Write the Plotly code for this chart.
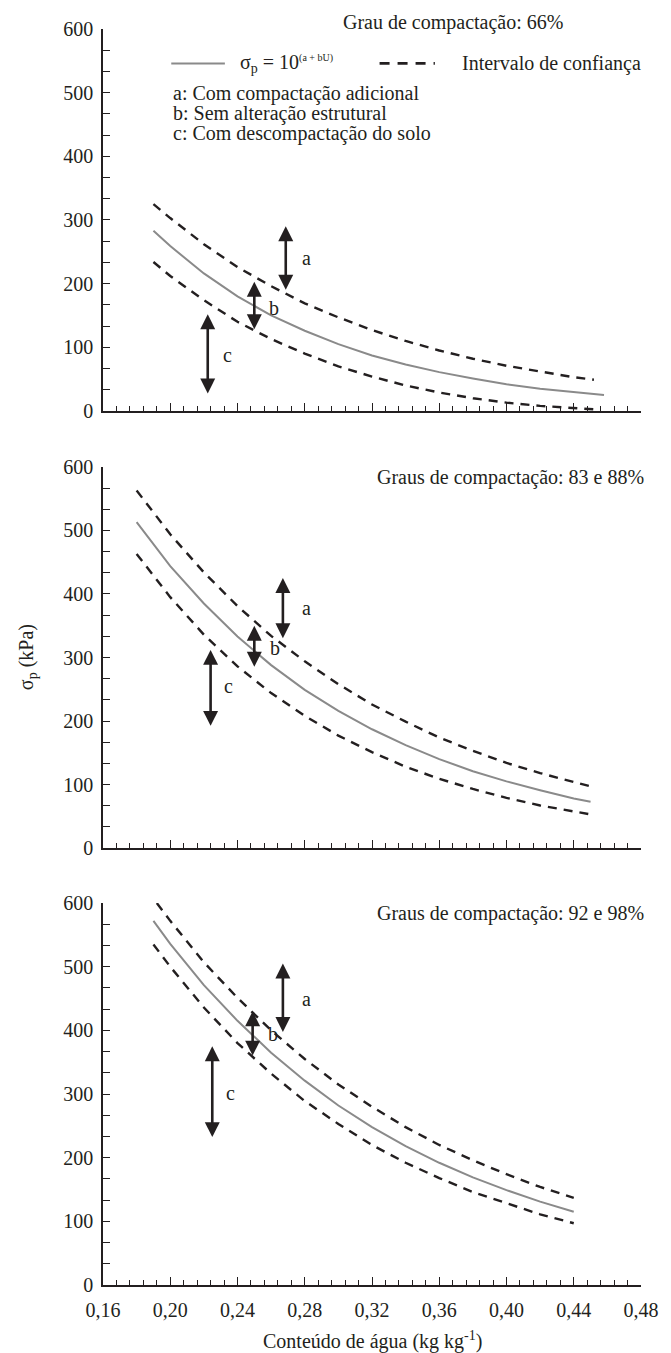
import plotly.graph_objects as go

# ---------------- data ----------------
# Panel 1: Grau de compactação 66%
u1 = [0.19, 0.20, 0.22, 0.24, 0.26, 0.28, 0.30, 0.32, 0.34, 0.36, 0.38, 0.40, 0.42, 0.44, 0.458]
fit1 = [283, 259, 216, 180, 150, 126, 105, 87, 73, 61, 51, 42, 35, 30, 25]
u1_up = [0.19, 0.20, 0.22, 0.24, 0.26, 0.28, 0.30, 0.32, 0.34, 0.36, 0.38, 0.40, 0.42, 0.44, 0.452]
up1 = [325, 303, 262, 226, 196, 169, 147, 127, 110, 95, 82, 71, 62, 53, 49]
u1_lo = [0.19, 0.20, 0.22, 0.24, 0.26, 0.28, 0.30, 0.32, 0.34, 0.36, 0.38, 0.40, 0.42, 0.44, 0.455]
lo1 = [234, 212, 174, 140, 113, 90, 70, 54, 40, 29, 20, 13, 8, 4, 2]

# Panel 2: Graus de compactação 83 e 88%
u2 = [0.18, 0.20, 0.22, 0.24, 0.26, 0.28, 0.30, 0.32, 0.34, 0.36, 0.38, 0.40, 0.42, 0.44, 0.45]
fit2 = [513, 444, 385, 333, 288, 249, 216, 187, 162, 140, 121, 105, 91, 78, 73]
up2 = [563, 494, 434, 381, 334, 294, 258, 226, 199, 174, 153, 134, 118, 104, 97]
lo2 = [463, 395, 336, 286, 244, 208, 177, 151, 128, 109, 93, 79, 67, 57, 53]

# Panel 3: Graus de compactação 92 e 98%
u3 = [0.19, 0.20, 0.22, 0.24, 0.26, 0.28, 0.30, 0.32, 0.34, 0.36, 0.38, 0.40, 0.42, 0.44]
fit3 = [572, 536, 471, 415, 365, 321, 282, 248, 218, 192, 169, 149, 131, 115]
u3_up = [0.192, 0.20, 0.22, 0.24, 0.26, 0.28, 0.30, 0.32, 0.34, 0.36, 0.38, 0.40, 0.42, 0.44]
up3 = [600, 572, 507, 451, 400, 355, 315, 280, 248, 220, 196, 174, 154, 137]
lo3 = [535, 500, 436, 380, 332, 289, 253, 220, 192, 168, 146, 128, 111, 97]

# Arrows (x, top, bottom) per panel: a, b, c
arrows = {
    1: {"a": (0.2687, 290, 188), "b": (0.250, 203, 126), "c": (0.2223, 152, 25)},
    2: {"a": (0.267, 425, 328), "b": (0.250, 350, 283), "c": (0.224, 312, 190)},
    3: {"a": (0.267, 505, 395), "b": (0.249, 430, 358), "c": (0.225, 375, 230)},
}
arrow_labels = {
    1: {"a": (0.2773, 240), "b": (0.2577, 162), "c": (0.2304, 88)},
    2: {"a": (0.277, 378), "b": (0.258, 315), "c": (0.231, 255)},
    3: {"a": (0.277, 450), "b": (0.257, 395), "c": (0.232, 302)},
}
titles = {1: "Grau de compactação: 66%",
          2: "Graus de compactação: 83 e 88%",
          3: "Graus de compactação: 92 e 98%"}

x_ticks = [0.16, 0.20, 0.24, 0.28, 0.32, 0.36, 0.40, 0.44, 0.48]
y_ticks = [0, 100, 200, 300, 400, 500, 600]

INK = "#231f20"
GRAY = "#8a8a8a"
FONT = "Liberation Serif"
FS = 20

fig = go.Figure()

panels = [
    (1, u1, fit1, u1_up, up1, u1_lo, lo1),
    (2, u2, fit2, u2, up2, u2, lo2),
    (3, u3, fit3, u3_up, up3, u3, lo3),
]
for p, ux, fy, uu, uy, ul, ly in panels:
    xa = "x" if p == 1 else f"x{p}"
    ya = "y" if p == 1 else f"y{p}"
    fig.add_trace(go.Scatter(x=ux, y=fy, mode="lines", xaxis=xa, yaxis=ya,
                             line=dict(color=GRAY, width=2), showlegend=False))
    fig.add_trace(go.Scatter(x=uu, y=uy, mode="lines", xaxis=xa, yaxis=ya,
                             line=dict(color=INK, width=2.4, dash="9px,7px"), showlegend=False))
    fig.add_trace(go.Scatter(x=ul, y=ly, mode="lines", xaxis=xa, yaxis=ya,
                             line=dict(color=INK, width=2.4, dash="9px,7px"), showlegend=False))

annotations = []
for p in (1, 2, 3):
    xr = "x" if p == 1 else f"x{p}"
    yr = "y" if p == 1 else f"y{p}"
    for k, (ax_, top, bot) in arrows[p].items():
        annotations.append(dict(x=ax_, y=top, ax=ax_, ay=bot, xref=xr, yref=yr, axref=xr, ayref=yr,
                                text="", showarrow=True, arrowhead=2, startarrowhead=2,
                                arrowside="end+start", arrowsize=1.15, startarrowsize=1.15,
                                arrowwidth=2.6, arrowcolor=INK, standoff=0, startstandoff=0))
    for k, (lx, ly_) in arrow_labels[p].items():
        annotations.append(dict(x=lx, y=ly_, xref=xr, yref=yr, text=k, showarrow=False,
                                font=dict(family=FONT, size=FS, color=INK), xanchor="left", yanchor="middle"))

# panel titles
annotations.append(dict(x=0.4348, y=1.016, xref="x", yref="y domain", text=titles[1], showarrow=False,
                        xanchor="right", yanchor="middle", font=dict(family=FONT, size=FS, color=INK)))
annotations.append(dict(x=1.009, y=0.972, xref="x2 domain", yref="y2 domain", text=titles[2], showarrow=False,
                        xanchor="right", yanchor="middle", font=dict(family=FONT, size=FS, color=INK)))
annotations.append(dict(x=1.009, y=0.972, xref="x3 domain", yref="y3 domain", text=titles[3], showarrow=False,
                        xanchor="right", yanchor="middle", font=dict(family=FONT, size=FS, color=INK)))

# legend (panel 1)
leg_y = 546
annotations.append(dict(x=0.2404, y=leg_y, xref="x", yref="y", showarrow=False, xanchor="left", yanchor="middle",
                        text="σ<sub>p</sub> = 10<sup><span style='font-size:10px'>(a + bU)</span></sup>",
                        font=dict(family=FONT, size=FS, color=INK)))
annotations.append(dict(x=0.3721, y=leg_y, xref="x", yref="y", showarrow=False, xanchor="left", yanchor="middle",
                        text="Intervalo de confiança", font=dict(family=FONT, size=FS, color=INK)))
for txt, yy in [("a: Com compactação adicional", 499),
                ("b: Sem alteração estrutural", 468),
                ("c: Com descompactação do solo", 436)]:
    annotations.append(dict(x=0.2006, y=yy, xref="x", yref="y", showarrow=False, xanchor="left", yanchor="middle",
                            text=txt, font=dict(family=FONT, size=FS, color=INK)))

shapes = [
    dict(type="line", xref="x", yref="y", x0=0.2006, x1=0.2325, y0=leg_y, y1=leg_y,
         line=dict(color=GRAY, width=2)),
    dict(type="line", xref="x", yref="y", x0=0.3245, x1=0.3574, y0=leg_y, y1=leg_y,
         line=dict(color=INK, width=2.8, dash="10px,8px")),
]

# axis titles
annotations.append(dict(x=-0.141, y=0.5, xref="paper", yref="paper", textangle=-90, showarrow=False,
                        text="σ<sub>p</sub> (kPa)", font=dict(family=FONT, size=FS, color=INK),
                        xanchor="center", yanchor="middle"))
annotations.append(dict(x=0.5, y=-0.044, xref="paper", yref="paper", showarrow=False,
                        text="Conteúdo de água (kg kg<sup>-1</sup>)", font=dict(family=FONT, size=FS, color=INK),
                        xanchor="center", yanchor="middle"))

domains = {1: [0.6959, 1.0], 2: [0.3479, 0.6513], 3: [0.0, 0.3041]}

def xaxis_cfg(p):
    return dict(range=[0.16, 0.48], showgrid=False, zeroline=False, showline=True, linecolor=INK, linewidth=1.5,
                ticks="inside", ticklen=8, tickwidth=1.3, tickcolor=INK, tickmode="array", tickvals=x_ticks,
                tickformat=".2f", showticklabels=(p == 3), anchor=("y" if p == 1 else f"y{p}"),
                ticklabeloverflow="allow", ticklabelstandoff=6,
                minor=dict(dtick=0.008, ticks="inside", ticklen=5, tickwidth=1.2, tickcolor=INK, showgrid=False),
                tickfont=dict(family=FONT, size=FS, color=INK))

def yaxis_cfg(p):
    return dict(range=[0, 600], domain=domains[p], showgrid=False, zeroline=False, showline=True, linecolor=INK,
                linewidth=1.5, ticks="inside", ticklen=7, tickwidth=1.3, tickcolor=INK, tickmode="array",
                tickvals=y_ticks, anchor=("x" if p == 1 else f"x{p}"), ticklabelstandoff=4,
                minor=dict(dtick=100 / 3, ticks="inside", ticklen=7, tickwidth=1.2, tickcolor=INK, showgrid=False),
                tickfont=dict(family=FONT, size=FS, color=INK))

fig.update_layout(
    width=671, height=1353,
    margin=dict(l=103, r=16, t=29, b=68),
    plot_bgcolor="white", paper_bgcolor="white",
    separators=",.",
    showlegend=False,
    xaxis=xaxis_cfg(1), yaxis=yaxis_cfg(1),
    xaxis2=xaxis_cfg(2), yaxis2=yaxis_cfg(2),
    xaxis3=xaxis_cfg(3), yaxis3=yaxis_cfg(3),
    annotations=annotations, shapes=shapes,
    font=dict(family=FONT, size=FS, color=INK),
)

fig.write_html("out.html")
